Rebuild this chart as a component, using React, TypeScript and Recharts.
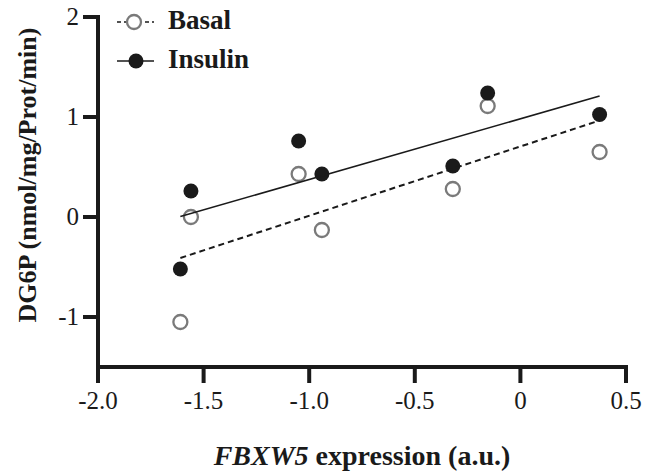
import { ScatterChart, Scatter, XAxis, YAxis, ReferenceLine } from "recharts"

const basal = [
  { x: -1.61, y: -1.05 },
  { x: -1.56, y: 0.0 },
  { x: -1.05, y: 0.43 },
  { x: -0.94, y: -0.13 },
  { x: -0.32, y: 0.28 },
  { x: -0.155, y: 1.11 },
  { x: 0.375, y: 0.65 },
]

const insulin = [
  { x: -1.61, y: -0.52 },
  { x: -1.56, y: 0.26 },
  { x: -1.05, y: 0.76 },
  { x: -0.94, y: 0.43 },
  { x: -0.32, y: 0.51 },
  { x: -0.155, y: 1.24 },
  { x: 0.375, y: 1.025 },
]

// regression line ends
const basalFit = [
  { x: -1.61, y: -0.41 },
  { x: 0.375, y: 0.965 },
]
const insulinFit = [
  { x: -1.61, y: 0.005 },
  { x: 0.375, y: 1.21 },
]

const xTicks = [-2, -1.5, -1, -0.5, 0, 0.5]
const xTickLabels = ["-2.0", "-1.5", "-1.0", "-0.5", "0", "0.5"]
const yTicks = [-1, 0, 1, 2]
const yTickLabels = ["-1", "0", "1", "2"]
const xMin = -2
const yMin = -1.5

const FONT = "Liberation Serif"
const INK = "#1a1a1a"
const GREY = "#7a7a7a"
const AXIS_W = 4

const OpenDot = (props: any) => (
  <circle cx={props.cx} cy={props.cy} r={7} fill="none" stroke={GREY} strokeWidth={2.3} />
)
const FilledDot = (props: any) => <circle cx={props.cx} cy={props.cy} r={7.5} fill={INK} />
const NoDot = () => <g />

// tick mark + label; x/y arrive at the label anchor (axis + tickSize + tickMargin)
const XTick = (props: any) => {
  const { x, y, payload } = props
  const label = xTickLabels[xTicks.indexOf(payload.value)] ?? String(payload.value)
  return (
    <g>
      <line x1={x} y1={y - 25} x2={x} y2={y - 9} stroke={INK} strokeWidth={AXIS_W} />
      <text x={x} y={y + 17} textAnchor="middle" fontFamily={FONT} fontSize={25} fill={INK}>
        {label}
      </text>
    </g>
  )
}

const YTick = (props: any) => {
  const { x, y, payload } = props
  const label = yTickLabels[yTicks.indexOf(payload.value)] ?? String(payload.value)
  return (
    <g>
      <line x1={x + 4} y1={y} x2={x + 19} y2={y} stroke={INK} strokeWidth={AXIS_W} />
      <text x={x} y={y + 8} textAnchor="end" fontFamily={FONT} fontSize={25} fill={INK}>
        {label}
      </text>
    </g>
  )
}

export default function App() {
  return (
    <div style={{ position: "absolute", left: 0, top: 0, width: 654, height: 473, background: "#fff" }}>
      <ScatterChart width={654} height={473} margin={{ top: 17, right: 28, left: 0, bottom: 0 }}>
        <XAxis
          type="number"
          dataKey="x"
          domain={[xMin, 0.5]}
          ticks={xTicks}
          height={106}
          tickSize={15}
          tickMargin={10}
          tick={<XTick />}
          axisLine={false}
          tickLine={false}
          allowDataOverflow
        />
        <YAxis
          type="number"
          dataKey="y"
          domain={[yMin, 2]}
          ticks={yTicks}
          width={98}
          tickSize={14}
          tickMargin={5}
          tick={<YTick />}
          axisLine={false}
          tickLine={false}
          allowDataOverflow
        />
        <ReferenceLine y={yMin} stroke={INK} strokeWidth={AXIS_W} strokeLinecap="square" />
        <ReferenceLine x={xMin} stroke={INK} strokeWidth={AXIS_W} strokeLinecap="square" />
        <Scatter name="Basal" data={basal} shape={OpenDot} isAnimationActive={false} />
        <Scatter name="Insulin" data={insulin} shape={FilledDot} isAnimationActive={false} />
        <Scatter
          name="Basal fit"
          data={basalFit}
          shape={NoDot}
          line={{ stroke: INK, strokeWidth: 2, strokeDasharray: "6 4" }}
          isAnimationActive={false}
        />
        <Scatter
          name="Insulin fit"
          data={insulinFit}
          shape={NoDot}
          line={{ stroke: INK, strokeWidth: 1.6 }}
          isAnimationActive={false}
        />
      </ScatterChart>
      <svg
        width={654}
        height={473}
        style={{ position: "absolute", left: 0, top: 0, pointerEvents: "none" }}
      >
        {/* legend */}
        <line x1={117} y1={22} x2={154} y2={22} stroke={INK} strokeWidth={1.5} strokeDasharray="4 3" />
        <circle cx={134} cy={22} r={7} fill="#fff" stroke={GREY} strokeWidth={2.3} />
        <text x={168} y={29} fontFamily={FONT} fontWeight="bold" fontSize={27} fill={INK}>Basal</text>
        <line x1={117} y1={61} x2={154} y2={61} stroke={INK} strokeWidth={1.5} />
        <circle cx={136} cy={61} r={7.5} fill={INK} />
        <text x={168} y={68} fontFamily={FONT} fontWeight="bold" fontSize={27} fill={INK}>Insulin</text>
        {/* axis titles */}
        <text
          x={0}
          y={0}
          transform="translate(36,175) rotate(-90)"
          textAnchor="middle"
          fontFamily={FONT}
          fontWeight="bold"
          fontSize={26}
          fill={INK}
        >
          DG6P (nmol/mg/Prot/min)
        </text>
        <text x={362} y={465} textAnchor="middle" fontFamily={FONT} fontWeight="bold" fontSize={28} fill={INK}>
          <tspan fontStyle="italic">FBXW5</tspan> expression (a.u.)
        </text>
      </svg>
    </div>
  )
}
